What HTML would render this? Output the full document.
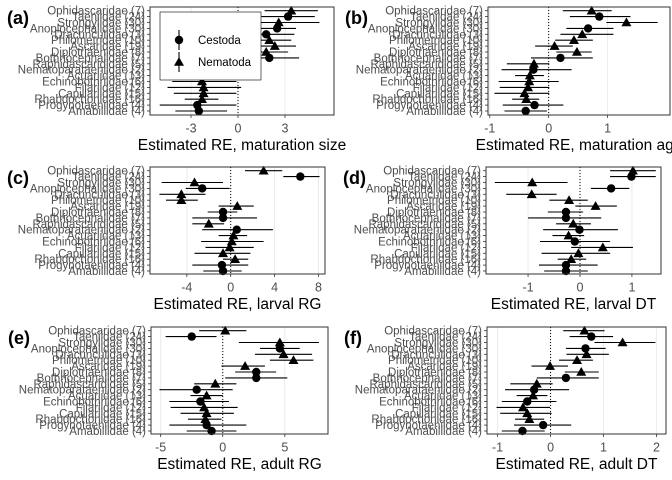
<!DOCTYPE html>
<html><head><meta charset="utf-8"><style>
html,body{margin:0;padding:0;background:#fff}
svg{display:block;font-family:"Liberation Sans",Arial,sans-serif}
</style></head><body>
<svg id="chart" width="672" height="480" viewBox="0 0 672 480" xmlns="http://www.w3.org/2000/svg"></svg>
<script>
const families = ["Ophidascaridae (7)","Taeniidae (24)","Strongylidae (30)","Anoplocephalidae (30)","Dracunculidae (3)","Philometridae (10)","Ascaridae (19)","Diplotriaenidae (8)","Bothriocephalidae (7)","Raphidascarididae (5)","Nematoparataeniidae (2)","Acuariidae (13)","Echinobothriidae (6)","Filariidae (12)","Capillariidae (15)","Rhabdochonidae (16)","Progynotaeniidae (4)","Amabiliidae (4)"];

const shapesA = ["T","C","T","C","C","T","T","T","C","T","C","T","T","T","T","T","C","C"];
const estA = [3.4,3.2,2.6,2.5,1.8,2.0,2.35,1.8,2.0,-2.4,-2.3,-2.3,-2.3,-2.2,-2.2,-2.3,-2.6,-2.5];
const loA  = [1.7,1.5,0.0,1.3,0.0,0.6,1.0,0.4,0.1,-4.7,-4.9,-3.7,-4.2,-4.5,-4.1,-3.4,-5.0,-4.0];
const hiA  = [5.1,4.9,5.2,3.7,3.6,3.4,3.7,3.2,3.9,-0.1,0.3,-0.9,-0.1,0.2,-0.1,-1.25,-0.1,-0.7];

const shapesB = ["T","C","T","C","T","T","T","T","C","T","C","T","T","T","T","T","C","C"];
const estB = [0.73,0.86,1.32,0.67,0.57,0.43,0.1,0.48,0.2,-0.25,-0.26,-0.32,-0.33,-0.35,-0.41,-0.38,-0.24,-0.39];
const loB  = [0.24,0.36,0.98,0.3,0.2,0.11,-0.23,0.13,-0.3,-0.71,-0.8,-0.57,-0.85,-0.83,-0.92,-0.62,-0.78,-0.75];
const hiB  = [1.07,1.39,1.85,1.1,1.1,0.75,0.41,0.73,0.75,0.01,0.39,-0.08,0.17,0.01,0.01,-0.16,0.25,-0.03];

const shapesC = ["T","C","T","C","T","T","T","C","C","T","C","T","T","T","T","T","C","C"];
const estC = [3.0,6.35,-3.3,-2.6,-4.5,-4.5,0.6,-0.7,-0.7,-2.0,0.55,0.25,0.1,-0.1,-0.7,0.4,-0.8,-0.7];
const loC  = [1.3,4.8,-6.3,-4.1,-6.5,-5.9,-1.1,-2.1,-3.5,-3.5,-2.6,-1.1,-2.7,-2.3,-3.3,-0.7,-3.5,-2.5];
const hiC  = [4.7,8.1,-0.7,-0.1,-2.3,-3.0,2.1,0.6,2.4,-0.6,3.85,1.5,3.0,2.1,1.8,1.6,1.6,1.0];

const shapesD = ["T","C","T","C","T","T","T","C","C","T","C","T","C","T","T","T","C","C"];
const estD = [1.02,0.99,-0.92,0.6,-0.93,-0.21,0.3,-0.27,-0.27,-0.13,-0.01,-0.22,-0.1,0.44,-0.03,-0.17,-0.27,-0.27];
const loD  = [0.58,0.58,-1.64,0.21,-1.42,-0.59,-0.09,-0.62,-1.0,-0.46,-0.71,-0.53,-0.77,-0.17,-0.74,-0.43,-0.79,-0.69];
const hiD  = [1.46,1.46,-0.24,0.95,-0.45,0.15,0.71,0.06,0.41,0.21,0.73,0.08,0.58,1.02,0.58,0.12,0.34,0.15];

const shapesE = ["T","C","T","C","T","T","T","C","C","T","C","T","C","T","T","T","C","C"];
const estE = [0.2,-2.5,4.6,4.6,4.9,5.7,1.8,2.7,2.7,-0.6,-2.1,-1.3,-1.8,-1.5,-1.3,-1.4,-1.3,-0.9];
const loE  = [-1.9,-4.6,1.3,3.0,2.6,3.8,-0.1,1.0,0.2,-2.3,-5.1,-2.6,-4.3,-4.2,-3.4,-2.8,-4.3,-2.9];
const hiE  = [1.9,-0.5,7.75,6.2,7.2,7.3,3.4,4.3,5.2,1.1,0.8,0.0,0.5,1.2,0.9,-0.1,1.9,1.1];

const shapesF = ["T","C","T","C","T","T","T","T","C","T","C","T","C","T","T","T","C","C"];
const estF = [0.64,0.77,1.36,0.66,0.68,0.5,-0.01,0.58,0.29,-0.26,-0.31,-0.33,-0.44,-0.52,-0.44,-0.4,-0.14,-0.53];
const loF  = [0.24,0.36,0.83,0.29,0.3,0.16,-0.36,0.27,-0.26,-0.76,-0.86,-0.64,-0.92,-1.02,-0.95,-0.67,-0.69,-0.92];
const hiF  = [1.02,1.18,1.98,1.04,1.1,0.8,0.33,0.91,0.91,0.04,0.35,-0.06,0.11,-0.01,0.02,-0.12,0.39,-0.11];

const ticksA = [-3,0,3], ticksB = [-1,0,1], ticksC = [-4,0,4,8], ticksD = [-1,0,1], ticksE = [-5,0,5], ticksF = [-1,0,1,2];
const titles = ["Estimated RE, maturation size","Estimated RE, maturation age","Estimated RE, larval RG","Estimated RE, larval DT","Estimated RE, adult RG","Estimated RE, adult DT"];
const tags = ["(a)","(b)","(c)","(d)","(e)","(f)"];

const NS = "http://www.w3.org/2000/svg";
const svg = document.getElementById("chart");
function mk(tag, attrs, parent){
  const e = document.createElementNS(NS, tag);
  for (const k in attrs) e.setAttribute(k, attrs[k]);
  (parent||svg).appendChild(e);
  return e;
}

const panels = [
  {L:150,R:334,T:7,B:115,dmin:-5.62,dmax:6.13,est:estA,lo:loA,hi:hiA,sh:shapesA,ticks:ticksA},
  {L:488,R:670,T:7,B:115,dmin:-1.03,dmax:2.06,est:estB,lo:loB,hi:hiB,sh:shapesB,ticks:ticksB},
  {L:150,R:325,T:167,B:274,dmin:-7.36,dmax:8.6,est:estC,lo:loC,hi:hiC,sh:shapesC,ticks:ticksC},
  {L:486,R:661,T:167,B:274,dmin:-1.81,dmax:1.56,est:estD,lo:loD,hi:hiD,sh:shapesD,ticks:ticksD},
  {L:151,R:328,T:327,B:434,dmin:-5.78,dmax:8.48,est:estE,lo:loE,hi:hiE,sh:shapesE,ticks:ticksE},
  {L:487,R:666,T:327,B:434,dmin:-1.2,dmax:2.18,est:estF,lo:loF,hi:hiF,sh:shapesF,ticks:ticksF}
];

panels.forEach((p, pi) => {
  const g = mk("g", {});
  
  
  const x = v => p.L + (v - p.dmin) / (p.dmax - p.dmin) * (p.R - p.L);
  const y = i => p.T + 3.7 + i * 5.9;
  p.ticks.forEach(t => {
    const gl = mk("line", {x1:x(t),x2:x(t),y1:p.T,y2:p.B,stroke:"#ebebeb","stroke-width":1}, g);
    
    
  });
  const zl = mk("line", {x1:x(0),x2:x(0),y1:p.T,y2:p.B,stroke:"#000","stroke-width":1,"stroke-dasharray":"1,2"}, g);
  
  
  p.est.forEach((v, i) => {
    const el = mk("line", {x1:x(p.lo[i]),x2:x(p.hi[i]),y1:y(i),y2:y(i),stroke:"#000","stroke-width":1.1}, g);
    
    
    const cx = x(v), cy = y(i);
    let m;
    if (p.sh[i] === "C") m = mk("circle", {cx:cx,cy:cy,r:4.2,fill:"#000"}, g);
    else m = mk("polygon", {points:`${cx},${cy-5} ${cx-5},${cy+3.8} ${cx+5},${cy+3.8}`,fill:"#000"}, g);
    
    
  });
  const br = mk("rect", {x:p.L,y:p.T,width:p.R-p.L,height:p.B-p.T,fill:"none",stroke:"#333","stroke-width":1}, g);
  
  
  families.forEach((f, i) => {
    const tk = mk("line", {x1:p.L-3,x2:p.L,y1:y(i),y2:y(i),stroke:"#333","stroke-width":0.8}, g);
    
    
    const t = mk("text", {x:p.L-5,y:y(i)+4,"text-anchor":"end","font-size":"11.5",fill:"#4d4d4d"}, g);
    t.textContent = f;
    
    
  });
  p.ticks.forEach(tv => {
    const tk = mk("line", {x1:x(tv),x2:x(tv),y1:p.B,y2:p.B+3,stroke:"#333","stroke-width":0.8}, g);
    
    
    const t = mk("text", {x:x(tv),y:p.B+17.5,"text-anchor":"middle","font-size":"12.5",fill:"#4d4d4d"}, g);
    t.textContent = tv;
    
    
  });
  const tt = mk("text", {x:(p.L+p.R)/2,y:p.B+35,"text-anchor":"middle","font-size":"15.5",fill:"#000"}, g);
  tt.textContent = titles[pi];
  
  
  const tg = mk("text", {x:p.L-143,y:p.T+17,"font-size":"18","font-weight":"bold",fill:"#000"}, g);
  tg.textContent = tags[pi];
  
  
});

const lg = mk("g", {});


const lr = mk("rect", {x:160,y:12,width:101,height:68,fill:"#fff",stroke:"#000","stroke-width":0.6}, lg);


const l1 = mk("line", {x1:179,x2:179,y1:30,y2:50,stroke:"#000","stroke-width":1.1}, lg);


const c1 = mk("circle", {cx:179,cy:40,r:4.2,fill:"#000"}, lg);


const t1 = mk("text", {x:198,y:44,"font-size":"11.5",fill:"#000"}, lg);
t1.textContent = "Cestoda";


const l2 = mk("line", {x1:179,x2:179,y1:52,y2:72,stroke:"#000","stroke-width":1.1}, lg);


const p2 = mk("polygon", {points:"179,57 174,65.8 184,65.8",fill:"#000"}, lg);


const t2 = mk("text", {x:198,y:66,"font-size":"11.5",fill:"#000"}, lg);
t2.textContent = "Nematoda";


</script>
</body></html>
